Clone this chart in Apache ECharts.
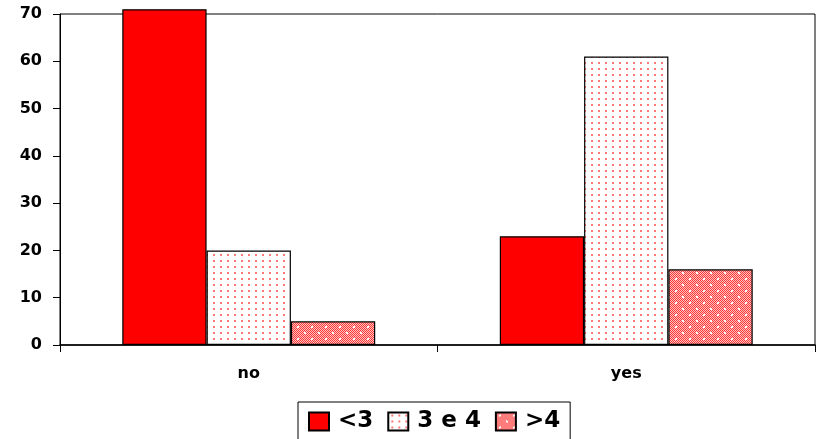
<!DOCTYPE html>
<html>
<head>
<meta charset="utf-8">
<script src="https://cdn.jsdelivr.net/npm/echarts@6/dist/echarts.min.js"></script>
<style>
  html, body { margin: 0; padding: 0; background: #fff; }
  #chart { width: 819px; height: 439px; }
</style>
</head>
<body>
<div id="chart"></div>
<script>
// Categories, series and values
const categories = ['no', 'yes'];
const seriesNames = ['<3', '3 e 4', '>4'];
const valuesLt3 = [71, 23];
const values3e4 = [20, 61];
const valuesGt4 = [5, 16];

// Value axis range
const yMin = 0;
const yMax = 70;
const yStep = 10;

const FONT = 'DejaVu Sans';

// Fine red dots on white
function dotPattern() {
  const c = document.createElement('canvas');
  c.width = 7; c.height = 6;
  const g = c.getContext('2d');
  g.fillStyle = '#ffffff';
  g.fillRect(0, 0, 7, 6);
  g.fillStyle = 'rgba(255,30,30,0.6)';
  g.fillRect(3, 2, 2, 2);
  return c;
}

// Red/pink checkerboard with white dots
function checkPattern() {
  const w = 14, h = 12;
  const c = document.createElement('canvas');
  c.width = w; c.height = h;
  const g = c.getContext('2d');
  for (let y = 0; y < h; y++) {
    for (let x = 0; x < w; x++) {
      g.fillStyle = ((x + y) % 2 === 0) ? '#ff3838' : '#ffc0c0';
      g.fillRect(x, y, 1, 1);
    }
  }
  g.fillStyle = '#ffffff';
  g.fillRect(3, 2, 2, 2);
  g.fillRect(10, 8, 2, 2);
  return c;
}

const fills = [
  '#ff0000',
  { image: dotPattern(), repeat: 'repeat' },
  { image: checkPattern(), repeat: 'repeat' }
];
const dataSets = [valuesLt3, values3e4, valuesGt4];

const chart = echarts.init(document.getElementById('chart'), null, { renderer: 'canvas' });

chart.setOption({
  animation: false,
  backgroundColor: '#ffffff',
  grid: {
    left: 60, right: 4, top: 14, bottom: 94,
    show: true, borderColor: '#000', borderWidth: 1, backgroundColor: 'transparent'
  },
  legend: {
    left: 298, top: 402,
    orient: 'horizontal',
    data: seriesNames.map(n => ({ name: n, icon: 'rect' })),
    itemWidth: 20, itemHeight: 18, itemGap: 14,
    borderColor: '#000', borderWidth: 1,
    padding: [8, 10, 10, 10],
    textStyle: { fontFamily: FONT, fontWeight: 'bold', fontSize: 23, color: '#000', padding: [0, 0, 0, 4] },
    selectedMode: false
  },
  xAxis: {
    type: 'category',
    data: categories,
    axisLine: { lineStyle: { color: '#000', width: 1.5 } },
    axisTick: { show: true, alignWithLabel: false, length: 7, lineStyle: { color: '#000' } },
    axisLabel: { fontFamily: FONT, fontWeight: 'bold', fontSize: 16, color: '#000', margin: 21 },
    splitLine: { show: false }
  },
  yAxis: {
    type: 'value',
    min: yMin, max: yMax, interval: yStep,
    axisLine: { show: true, lineStyle: { color: '#000', width: 1 } },
    axisTick: { show: true, length: 7, lineStyle: { color: '#000' } },
    axisLabel: { fontFamily: FONT, fontWeight: 'bold', fontSize: 16, color: '#000', margin: 18 },
    splitLine: { show: false }
  },
  series: seriesNames.map((name, i) => ({
    name: name,
    type: 'bar',
    data: dataSets[i],
    clip: false,
    barGap: '0%',
    barCategoryGap: '33%',
    itemStyle: { color: fills[i], borderColor: '#000', borderWidth: 1.2 }
  }))
});
</script>
</body>
</html>
